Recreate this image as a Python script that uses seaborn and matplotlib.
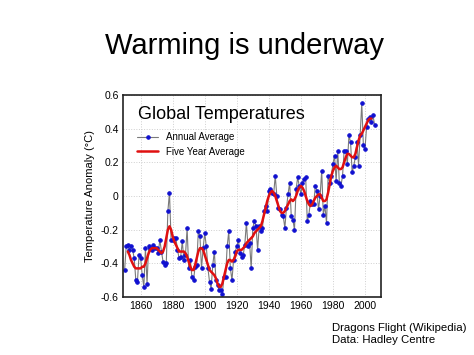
import numpy as np
import pandas as pd
import matplotlib
matplotlib.use("Agg")
import matplotlib.pyplot as plt
import seaborn as sns

# Annual global temperature anomaly, 1850-2006
annual_years = list(range(1850, 2007))
annual_values = [
    -0.44, -0.30, -0.29, -0.32, -0.30, -0.32, -0.37, -0.50, -0.51, -0.35,  # 1850s
    -0.37, -0.47, -0.54, -0.31, -0.52, -0.30, -0.31, -0.32, -0.29, -0.31,  # 1860s
    -0.31, -0.34, -0.26, -0.33, -0.39, -0.41, -0.40, -0.09, 0.02, -0.26,   # 1870s
    -0.26, -0.25, -0.25, -0.32, -0.37, -0.36, -0.27, -0.38, -0.35, -0.19,  # 1880s
    -0.43, -0.38, -0.48, -0.50, -0.42, -0.41, -0.21, -0.24, -0.43, -0.31,  # 1890s
    -0.22, -0.30, -0.43, -0.51, -0.55, -0.41, -0.33, -0.50, -0.53, -0.56,  # 1900s
    -0.56, -0.58, -0.48, -0.48, -0.30, -0.21, -0.43, -0.50, -0.38, -0.33,  # 1910s
    -0.30, -0.26, -0.34, -0.36, -0.35, -0.29, -0.16, -0.30, -0.28, -0.43,  # 1920s
    -0.19, -0.15, -0.18, -0.32, -0.18, -0.21, -0.19, -0.09, -0.06, -0.09,  # 1930s
    0.03, 0.04, 0.02, 0.01, 0.12, 0.00, -0.07, -0.08, -0.11, -0.12,        # 1940s
    -0.19, -0.07, 0.01, 0.08, -0.12, -0.14, -0.20, 0.04, 0.11, 0.06,       # 1950s
    0.01, 0.08, 0.10, 0.11, -0.15, -0.11, -0.03, -0.05, -0.05, 0.06,       # 1960s
    0.03, -0.08, 0.00, 0.15, -0.11, -0.06, -0.16, 0.12, 0.08, 0.12,        # 1970s
    0.19, 0.24, 0.09, 0.27, 0.08, 0.06, 0.12, 0.27, 0.27, 0.19,            # 1980s
    0.36, 0.32, 0.14, 0.18, 0.23, 0.32, 0.18, 0.36, 0.55, 0.30,            # 1990s
    0.28, 0.41, 0.46, 0.47, 0.44, 0.48, 0.42,                              # 2000s
]

# Five year average curve, 1852-2004
smooth_years = list(range(1852, 2005))
smooth_values = [
    -0.33, -0.35, -0.38, -0.40, -0.42, -0.43, -0.43, -0.43,                # 1852-1859
    -0.43, -0.42, -0.42, -0.40, -0.37, -0.34, -0.32, -0.31, -0.31, -0.31,  # 1860s
    -0.31, -0.32, -0.33, -0.34, -0.33, -0.30, -0.25, -0.20, -0.18, -0.20,  # 1870s
    -0.24, -0.27, -0.29, -0.31, -0.33, -0.33, -0.33, -0.33, -0.34, -0.36,  # 1880s
    -0.39, -0.42, -0.44, -0.44, -0.41, -0.37, -0.33, -0.31, -0.31, -0.32,  # 1890s
    -0.35, -0.38, -0.41, -0.44, -0.45, -0.46, -0.47, -0.49, -0.52, -0.54,  # 1900s
    -0.54, -0.52, -0.48, -0.44, -0.40, -0.38, -0.38, -0.39, -0.38, -0.36,  # 1910s
    -0.33, -0.32, -0.32, -0.32, -0.31, -0.30, -0.28, -0.27, -0.26, -0.25,  # 1920s
    -0.24, -0.22, -0.21, -0.20, -0.19, -0.18, -0.15, -0.11, -0.07, -0.03,  # 1930s
    0.00, 0.02, 0.03, 0.02, 0.00, -0.03, -0.06, -0.09, -0.10, -0.10,       # 1940s
    -0.09, -0.07, -0.05, -0.03, -0.02, -0.03, -0.02, 0.00, 0.03, 0.05,     # 1950s
    0.06, 0.05, 0.03, 0.00, -0.03, -0.05, -0.06, -0.05, -0.03, -0.01,      # 1960s
    0.00, 0.01, 0.01, -0.01, -0.03, -0.03, -0.02, 0.02, 0.07, 0.12,        # 1970s
    0.15, 0.17, 0.18, 0.17, 0.16, 0.16, 0.17, 0.20, 0.23, 0.25,            # 1980s
    0.25, 0.24, 0.23, 0.23, 0.25, 0.29, 0.33, 0.36, 0.37, 0.39,            # 1990s
    0.41, 0.43, 0.45, 0.46, 0.46,                                          # 2000-2004
]

x_ticks = [1860, 1880, 1900, 1920, 1940, 1960, 1980, 2000]
y_ticks = [-0.6, -0.4, -0.2, 0, 0.2, 0.4, 0.6]
y_tick_labels = ["-0.6", "-0.4", "-0.2", "0", "0.2", "0.4", "0.6"]

annual_df = pd.DataFrame({"year": annual_years, "anomaly": annual_values})
smooth_df = pd.DataFrame({"year": smooth_years, "anomaly": smooth_values})

sns.set_style("white")
plt.rcParams["font.family"] = ["Liberation Sans", "DejaVu Sans"]
plt.rcParams["text.color"] = "black"
plt.rcParams["axes.labelcolor"] = "black"
plt.rcParams["xtick.color"] = "black"
plt.rcParams["ytick.color"] = "black"

fig = plt.figure(figsize=(4.74, 3.55), dpi=100)
ax = fig.add_axes([0.2595, 0.1634, 0.5443, 0.569])

sns.lineplot(data=annual_df, x="year", y="anomaly", ax=ax, color="#7a7a7a",
             linewidth=0.8, marker="o", markersize=2.5, markerfacecolor="#1010d0",
             markeredgecolor="#1010d0", label="Annual Average")
sns.lineplot(data=smooth_df, x="year", y="anomaly", ax=ax, color="#e01010",
             linewidth=1.8, label="Five Year Average")

ax.set_xlim(1849, 2010)
ax.set_ylim(-0.6, 0.6)
ax.set_xticks(x_ticks)
ax.set_yticks(y_ticks)
ax.set_yticklabels(y_tick_labels)
ax.tick_params(labelsize=7.5, length=0, pad=3)
ax.grid(True, color="#cfcfcf", linestyle=":", linewidth=0.7)
for side in ax.spines.values():
    side.set_color("#222222")
    side.set_linewidth(1.2)
ax.set_xlabel("")
ax.set_ylabel("Temperature Anomaly (°C)", fontsize=8, labelpad=4)

ax.text(0.06, 0.905, "Global Temperatures", transform=ax.transAxes,
        fontsize=13, ha="left", va="center")
ax.legend(loc="upper left", bbox_to_anchor=(0.02, 0.86), frameon=False,
          fontsize=7, handlelength=2.2, labelspacing=0.5)

fig.text(0.515, 0.87, "Warming is underway", ha="center", va="center", fontsize=21)
fig.text(0.700, 0.058, "Dragons Flight (Wikipedia)\nData: Hadley Centre",
         ha="left", va="center", fontsize=8.2, linespacing=1.25)

fig.savefig("out.png", dpi=100)
plt.close(fig)
